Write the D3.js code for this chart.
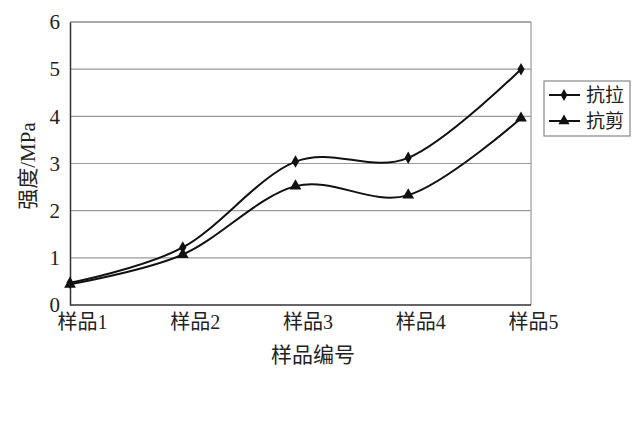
<!DOCTYPE html>
<html>
<head>
<meta charset="utf-8">
<script src="https://cdn.jsdelivr.net/npm/d3@7"></script>
<style>
  body { margin: 0; background: #fff; }
</style>
</head>
<body>
<div id="canvas"></div>
<script>
const categories = ["样品1", "样品2", "样品3", "样品4", "样品5"]
const tensile = [0.47, 1.22, 3.04, 3.12, 5.0]   // 抗拉
const shear = [0.44, 1.07, 2.52, 2.33, 3.96]    // 抗剪
const yTicks = [0, 1, 2, 3, 4, 5, 6]
const seriesNames = ["抗拉", "抗剪"]

const font = "'Liberation Serif', 'Noto Sans CJK SC', serif"
const width = 640
const height = 426
const plot = { left: 70, right: 531, top: 22, bottom: 305 }

const svg = d3.select("#canvas").append("svg")
    .attr("width", width)
    .attr("height", height)

const x = d3.scalePoint()
    .domain(categories)
    .range([plot.left, 521])

const y = d3.scaleLinear()
    .domain([0, 6])
    .range([plot.bottom, plot.top])

// gridlines
svg.append("g")
    .selectAll("line")
    .data(yTicks.filter(d => d > 0))
    .join("line")
    .attr("x1", plot.left)
    .attr("x2", plot.right)
    .attr("y1", d => y(d))
    .attr("y2", d => y(d))
    .attr("stroke", d => d === 6 ? "#555" : "#9a9a9a")
    .attr("stroke-width", 1.2)

// right border
svg.append("line")
    .attr("x1", plot.right).attr("x2", plot.right)
    .attr("y1", plot.top).attr("y2", plot.bottom)
    .attr("stroke", "#9a9a9a").attr("stroke-width", 1.2)

// y axis
const yAxis = svg.append("g")
    .attr("transform", `translate(${plot.left},0)`)
    .call(d3.axisLeft(y).tickValues(yTicks).tickFormat(d3.format("d")).tickSize(0).tickPadding(10))
yAxis.select(".domain").attr("stroke", "#333").attr("stroke-width", 1.5)
yAxis.selectAll("text")
    .style("font-family", font)
    .style("font-size", "21px")
    .attr("fill", "#222")

// x axis
const xAxis = svg.append("g")
    .attr("transform", `translate(0,${plot.bottom})`)
    .call(d3.axisBottom(x).tickSize(0).tickPadding(10))
xAxis.select(".domain").attr("d", `M${plot.left},0H${plot.right}`)
    .attr("stroke", "#333").attr("stroke-width", 1.5)
xAxis.selectAll("text")
    .style("font-family", font)
    .style("font-size", "20px")
    .attr("fill", "#222")
    .attr("dx", 12)

// axis titles
svg.append("text")
    .attr("x", 313)
    .attr("y", 362)
    .attr("text-anchor", "middle")
    .style("font-family", font)
    .style("font-size", "21px")
    .attr("fill", "#222")
    .text("样品编号")

svg.append("text")
    .attr("transform", "translate(35,166) rotate(-90)")
    .attr("text-anchor", "middle")
    .style("font-family", font)
    .style("font-size", "21px")
    .attr("fill", "#222")
    .text("强度/MPa")

const line = d3.line()
    .x((d, i) => x(categories[i]))
    .y(d => y(d))
    .curve(d3.curveCatmullRom.alpha(0))

const series = [tensile, shear]
const symbols = [d3.symbolDiamond, d3.symbolTriangle]

series.forEach((vals, k) => {
    svg.append("path")
        .datum(vals)
        .attr("d", line)
        .attr("fill", "none")
        .attr("stroke", "#111")
        .attr("stroke-width", 2)

    svg.append("g")
        .selectAll("path")
        .data(vals)
        .join("path")
        .attr("transform", (d, i) => `translate(${x(categories[i])},${y(d)})`)
        .attr("d", d3.symbol().type(symbols[k]).size(k === 0 ? 45 : 60))
        .attr("fill", "#111")
})

// legend
const legend = svg.append("g").attr("transform", "translate(544,81)")
legend.append("rect")
    .attr("width", 86)
    .attr("height", 55)
    .attr("fill", "#fff")
    .attr("stroke", "#888")
    .attr("stroke-width", 1.2)

seriesNames.forEach((name, k) => {
    const ly = 14 + k * 26
    legend.append("line")
        .attr("x1", 5).attr("x2", 36)
        .attr("y1", ly).attr("y2", ly)
        .attr("stroke", "#111").attr("stroke-width", 2)
    legend.append("path")
        .attr("transform", `translate(20,${ly})`)
        .attr("d", d3.symbol().type(symbols[k]).size(k === 0 ? 40 : 55))
        .attr("fill", "#111")
    legend.append("text")
        .attr("x", 42)
        .attr("y", ly + 7)
        .style("font-family", font)
        .style("font-size", "19px")
        .attr("fill", "#222")
        .text(name)
})
</script>
</body>
</html>
